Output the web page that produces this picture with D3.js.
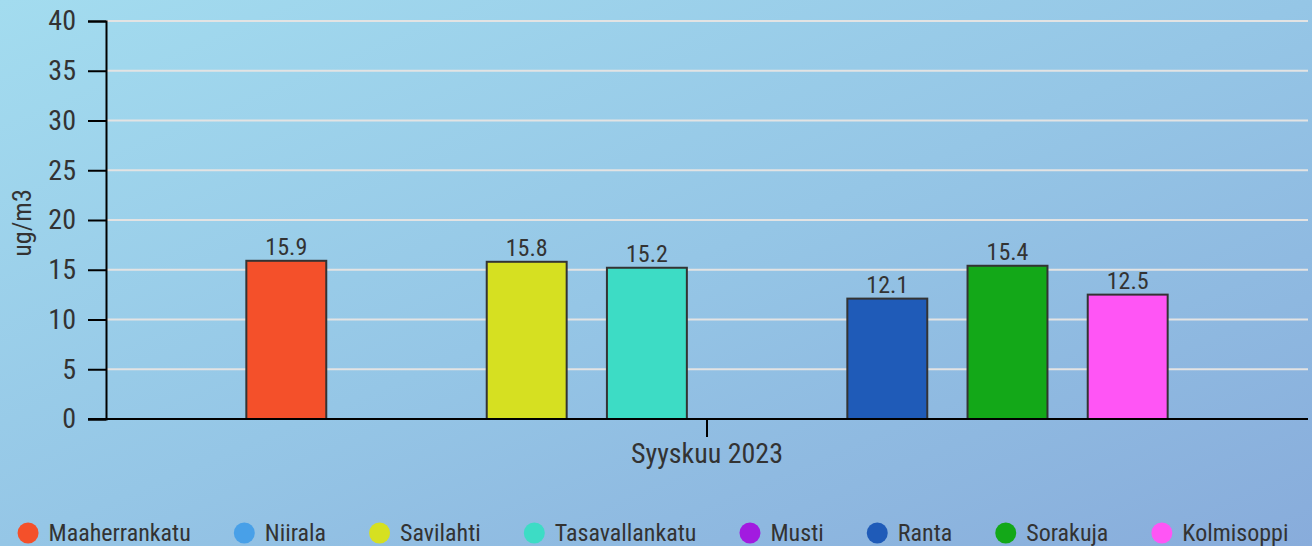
<!DOCTYPE html>
<html>
<head>
<meta charset="utf-8">
<script src="https://cdn.jsdelivr.net/npm/d3@7"></script>
<style>
  html, body { margin: 0; padding: 0; }
  body { width: 1312px; height: 546px; overflow: hidden;
    background: linear-gradient(to bottom right, #a3dcef 0%, #95c6e6 50%, #88acdb 100%); }
  svg { display: block; }
  svg, svg text { font-family: "Roboto Condensed", "Liberation Sans Narrow", "DejaVu Sans Condensed", Roboto, sans-serif; }
</style>
</head>
<body>
<svg id="chart" width="1312" height="546"></svg>
<script>
const categories = ["Syyskuu 2023"];
const seriesNames = ["Maaherrankatu", "Niirala", "Savilahti", "Tasavallankatu", "Musti", "Ranta", "Sorakuja", "Kolmisoppi"];
const seriesColors = ["#f4502a", "#48a0e8", "#d6e021", "#3ddcc5", "#a21be0", "#1f5bb8", "#13a818", "#ff55f5"];
const seriesValues = [15.9, null, 15.8, 15.2, null, 12.1, 15.4, 12.5];
const yTicks = [0, 5, 10, 15, 20, 25, 30, 35, 40];
const yLabel = "ug/m3";

const svg = d3.select("#chart");
const margin = { left: 106, right: 4, top: 21, bottom: 127 };
const W = 1312, H = 546;
const plotBottom = H - margin.bottom;

const y = d3.scaleLinear().domain([0, 40]).range([plotBottom, margin.top]);
const x0 = d3.scaleBand().domain(categories).range([margin.left, W - margin.right]).paddingInner(0.2).paddingOuter(0.1);
const x1 = d3.scaleBand().domain(seriesNames).range([0, x0.bandwidth()]).paddingInner(0.335).paddingOuter(0.1675);
const color = d3.scaleOrdinal().domain(seriesNames).range(seriesColors);

// grid
svg.append("g").selectAll("line").data(yTicks.filter(d => d > 0)).join("line")
  .attr("x1", margin.left).attr("x2", W - margin.right)
  .attr("y1", d => y(d)).attr("y2", d => y(d))
  .attr("stroke", "#e3e3e3").attr("stroke-width", 2);

// y axis
const yAxis = svg.append("g").attr("transform", `translate(${margin.left},0)`)
  .call(d3.axisLeft(y).tickValues(yTicks).tickSize(18).tickPadding(12));
yAxis.attr("font-family", null).attr("font-size", null);
yAxis.select(".domain").attr("stroke", "#000").attr("stroke-width", 2);
yAxis.selectAll(".tick line").attr("stroke", "#000").attr("stroke-width", 2);
yAxis.selectAll(".tick text").attr("fill", "#333").attr("font-size", 28);

// y label
svg.append("text").attr("transform", `translate(31,${(margin.top + plotBottom) / 2 + 3}) rotate(-90)`)
  .attr("text-anchor", "middle").attr("fill", "#333").attr("font-size", 26).text(yLabel);

// bars
const data = seriesNames.map((n, i) => ({ cat: categories[0], name: n, value: seriesValues[i] })).filter(d => d.value != null);
const g = svg.append("g");
g.selectAll("rect").data(data).join("rect")
  .attr("x", d => x0(d.cat) + x1(d.name))
  .attr("y", d => y(d.value))
  .attr("width", x1.bandwidth())
  .attr("height", d => y(0) - y(d.value))
  .attr("fill", d => color(d.name))
  .attr("stroke", "#333").attr("stroke-width", 2);
g.selectAll("text").data(data).join("text")
  .attr("x", d => x0(d.cat) + x1(d.name) + x1.bandwidth() / 2)
  .attr("y", d => y(d.value) - 6)
  .attr("text-anchor", "middle").attr("fill", "#333").attr("font-size", 24)
  .text(d => d.value.toFixed(1));

// x axis
const xAxis = svg.append("g").attr("transform", `translate(0,${plotBottom})`)
  .call(d3.axisBottom(x0).tickSize(18).tickPadding(6).tickSizeOuter(0));
xAxis.attr("font-family", null).attr("font-size", null);
xAxis.select(".domain").attr("stroke", "#000").attr("stroke-width", 2).attr("d", `M${margin.left - 18},0H${W - margin.right}`);
xAxis.selectAll(".tick line").attr("stroke", "#000").attr("stroke-width", 2);
xAxis.selectAll(".tick text").attr("fill", "#333").attr("font-size", 28);

// legend
const legend = svg.append("g");
const items = legend.selectAll("g").data(seriesNames).join("g");
items.append("circle").attr("r", 10.5).attr("cx", 10.5).attr("cy", 0).attr("fill", d => color(d));
items.append("text").attr("x", 31).attr("y", 0).attr("dy", "0.35em").attr("fill", "#333").attr("font-size", 24).text(d => d);
let xpos = 0;
const gap = 43;
items.each(function () {
  const w = this.getBBox().width;
  d3.select(this).attr("transform", `translate(${xpos},533)`);
  xpos += w + gap;
});
const totalW = xpos - gap;
legend.attr("transform", `translate(${(W - totalW) / 2 - 3},0)`);
</script>
</body>
</html>
